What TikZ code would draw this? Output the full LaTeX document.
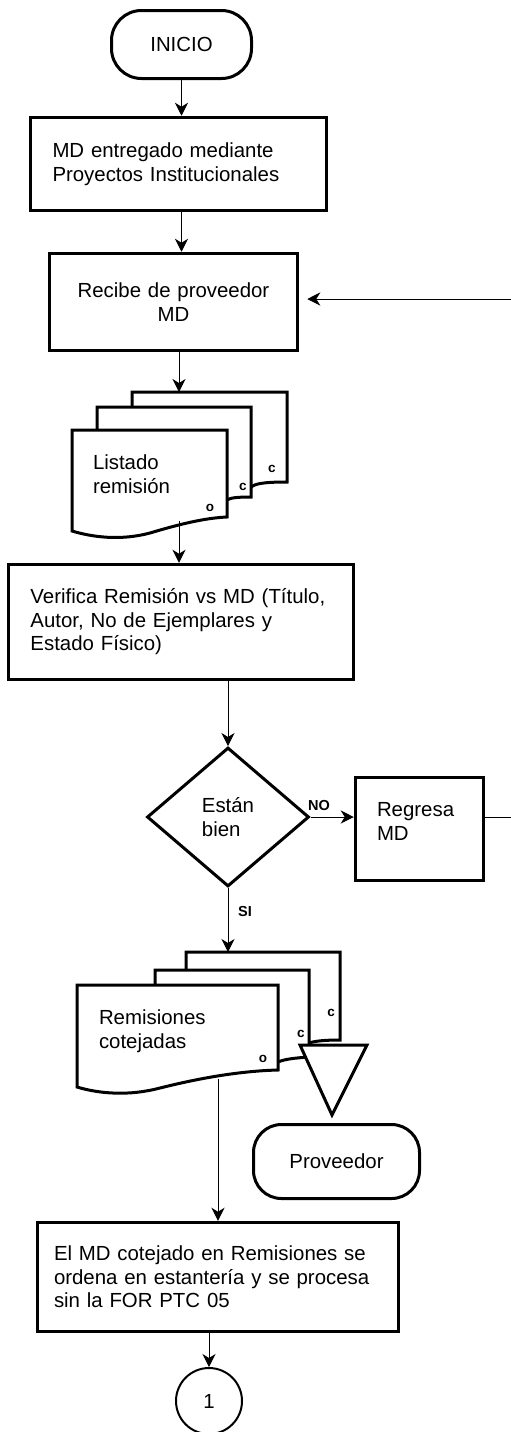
\documentclass[tikz,border=0pt]{standalone}
\usepackage{fontspec}
\setmainfont{Liberation Sans}
\usetikzlibrary{shapes.geometric,arrows.meta,calc}
\newcommand{\flowfont}{\fontsize{20.4pt}{23.5pt}\selectfont}
\newcommand{\tagfont}{\fontsize{13.5pt}{15pt}\selectfont\bfseries}
\newcommand{\answerfont}{\fontsize{14.5pt}{16pt}\selectfont\bfseries}
\begin{document}
\begin{tikzpicture}[x=1pt,y=-1pt,
  >={Stealth[length=13pt,width=13pt,inset=4pt]},
  every node/.style={font=\flowfont, inner sep=0pt},
  proc/.style={draw, line width=3.5pt, rectangle, align=left, inner xsep=22pt},
  term/.style={draw, line width=3pt, rectangle, rounded corners=30pt, align=center},
  sheet/.style={draw, line width=3pt, fill=white, line join=miter},
  tag/.style={font=\tagfont},
  answer/.style={font=\answerfont},
  flow/.style={line width=1pt, ->},
  plain/.style={line width=1pt},
]
\useasboundingbox (0,0) rectangle (511,1432);

% start and first steps
\node[term, minimum width=140pt, minimum height=68pt] (inicio) at (181.5,44.5) {INICIO};
\node[proc, minimum width=296pt, minimum height=93pt, text width=252pt] (entrega) at (178.5,164) {MD entregado mediante\\Proyectos Institucionales};
\node[proc, align=center, minimum width=248pt, minimum height=97pt, text width=204pt] (recibe) at (173.5,302) {Recibe de proveedor\\MD};

% first multi-document: Listado remision
\draw[sheet] (132,392) -- (287,392) -- (287,482) .. controls (262,482) and (255,484) .. (251,487) -- (132,487) -- cycle;
\draw[sheet] (97,407) -- (251,407) -- (251,497) .. controls (236,497) and (230,498) .. (227,500) -- (97,500) -- cycle;
\draw[sheet] (72,430) -- (227,430) -- (227,517) .. controls (205,518) and (180,524) .. (150,533) .. controls (120,541) and (92,537) .. (72,531) -- cycle;
\node[align=left, text width=113pt, inner xsep=21pt, minimum height=87pt] (listado) at (149.5,474) {Listado\\remisión};
\node[tag] (l-c1) at (272,469) {c};
\node[tag] (l-c2) at (243,487) {c};
\node[tag] (l-o) at (210,508) {o};
\coordinate (listtop) at (179,392);
\coordinate (listbot) at (179,521);

% verification and decision
\node[proc, minimum width=345pt, minimum height=115pt, text width=301pt] (verifica) at (181,622) {Verifica Remisión vs MD (Título,\\Autor, No de Ejemplares y\\Estado Físico)};
\node[diamond, draw, line width=3pt, minimum width=162pt, minimum height=139pt, align=left] (estan) at (228,817) {Están\\bien};
\node[proc, minimum width=128pt, minimum height=103pt, text width=85pt, inner xsep=21.5pt] (regresa) at (419.5,829) {Regresa\\MD\\[-8pt]\mbox{}};
\node[answer] (no) at (319,805) {NO};
\node[answer] (si) at (245,911) {SI};

% second multi-document: Remisiones cotejadas
\draw[sheet] (186,952) -- (340,952) -- (340,1040) .. controls (325,1040) and (315,1041) .. (309,1043) -- (186,1043) -- cycle;
\draw[sheet] (155,970) -- (309,970) -- (309,1057) .. controls (295,1058) and (285,1059) .. (278,1062) -- (155,1062) -- cycle;
\draw[sheet] (77,985) -- (278,985) -- (278,1070) .. controls (240,1071) and (200,1078) .. (160,1088) .. controls (130,1096) and (100,1094) .. (77,1087) -- cycle;
\node[align=left, text width=157pt, inner xsep=22pt, minimum height=85pt] (cotejadas) at (177.5,1031) {Remisiones\\cotejadas};
\node[tag] (r-c1) at (331,1013) {c};
\node[tag] (r-c2) at (301,1034) {c};
\node[tag] (r-o) at (263,1059) {o};
\coordinate (remtop) at (227,952);
\coordinate (rembot) at (218,1079);

% archive triangle and supplier terminal
\draw[sheet] (300,1045) -- (367,1045) -- (332,1115) -- cycle;
\node[term, rounded corners=28pt, minimum width=166pt, minimum height=74pt] (proveedor) at (336.5,1161.5) {Proveedor};

% final step and off-page connector
\node[proc, minimum width=361pt, minimum height=109pt, text width=328pt, inner xsep=16.5pt] (ordena) at (218,1277) {El MD cotejado en Remisiones se\\ordena en estantería y se procesa\\sin la FOR PTC 05};
\node[circle, draw, line width=2pt, minimum size=66pt] (conector) at (209,1401) {1};

% loose ends on the right margin
\coordinate (retorno) at (511,299);
\coordinate (salida) at (511,817);

% connectors
\draw[flow] (inicio.south) -- (inicio.south |- entrega.north);
\draw[flow] (inicio.south |- entrega.south) -- (inicio.south |- recibe.north);
\draw[flow] (listtop |- recibe.south) -- (listtop);
\draw[flow] (listbot) -- (listbot |- verifica.north);
\draw[flow] (estan.north |- verifica.south) -- (estan.north);
\draw[flow] (estan.east) -- (regresa.west |- estan.east);
\draw[plain] (regresa.east |- estan.east) -- (salida);
\draw[flow] (estan.south) -- (estan.south |- remtop);
\draw[flow] (rembot) -- (rembot |- ordena.north);
\draw[flow] (conector.north |- ordena.south) -- (conector.north);
\draw[flow, shorten >=8pt] (retorno) -- (recibe.east |- retorno);
\end{tikzpicture}
\end{document}
